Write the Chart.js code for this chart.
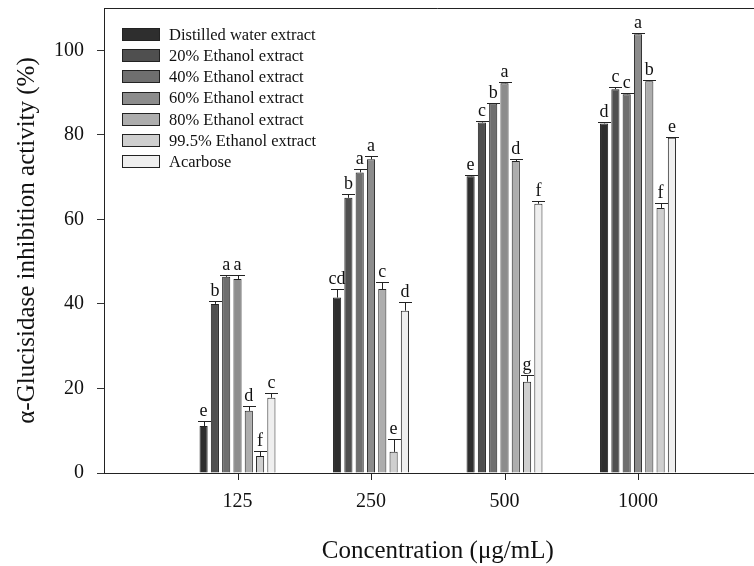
<!DOCTYPE html>
<html><head><meta charset="utf-8">
<script src="https://cdn.jsdelivr.net/npm/chart.js@4.4.1/dist/chart.umd.min.js"></script>
<style>html,body{margin:0;padding:0;overflow:hidden;background:#fff}
#wrap{position:relative;width:780px;height:566px}</style></head>
<body><div id="wrap"><canvas id="c"></canvas></div>
<script>
const concentrations = ['125', '250', '500', '1000'];
const seriesNames = ['Distilled water extract', '20% Ethanol extract', '40% Ethanol extract',
  '60% Ethanol extract', '80% Ethanol extract', '99.5% Ethanol extract', 'Acarbose'];
const distilled = [11.1, 41.5, 70.2, 82.7];
const eth20 = [40.0, 65.1, 82.9, 90.8];
const eth40 = [46.4, 71.1, 87.4, 89.6];
const eth60 = [45.9, 74.2, 92.2, 103.8];
const eth80 = [14.7, 43.5, 73.8, 92.7];
const eth995 = [4.0, 5.0, 21.6, 62.7];
const acarbose = [17.8, 38.4, 63.7, 79.3];
const errDistilled = [1.2, 2.0, 0.4, 0.3];
const err20 = [0.8, 1.0, 0.3, 0.4];
const err40 = [0.5, 0.7, 0.2, 0.2];
const err60 = [0.9, 0.8, 0.2, 0.2];
const err80 = [1.2, 1.7, 0.4, 0.2];
const err995 = [1.3, 3.0, 1.6, 1.2];
const errAcarbose = [1.1, 2.0, 0.6, 0.3];
const lettersDistilled = ['e', 'cd', 'e', 'd'];
const letters20 = ['b', 'b', 'c', 'c'];
const letters40 = ['a', 'a', 'b', 'c'];
const letters60 = ['a', 'a', 'a', 'a'];
const letters80 = ['d', 'c', 'd', 'b'];
const letters995 = ['f', 'e', 'g', 'f'];
const lettersAcarbose = ['c', 'd', 'f', 'e'];
const yTicks = [0, 20, 40, 60, 80, 100];

const values = [distilled, eth20, eth40, eth60, eth80, eth995, acarbose];
const errors = [errDistilled, err20, err40, err60, err80, err995, errAcarbose];
const letters = [lettersDistilled, letters20, letters40, letters60, letters80, letters995, lettersAcarbose];
const fills = ['#2e2e2e', '#4f4f4f', '#6f6f6f', '#8c8c8c', '#adadad', '#cfcfcf', '#efefef'];
const SERIF = '"Liberation Serif", "Times New Roman", serif';

const overlay = {
  id: 'overlay',
  afterDraw(chart) {
    const ctx = chart.ctx;
    const ys = chart.scales.y;
    const xs = chart.scales.x;
    const a = chart.chartArea;
    ctx.save();
    ctx.strokeStyle = '#222';
    ctx.lineWidth = 1;
    ctx.fillStyle = '#111';
    ctx.font = '18px ' + SERIF;
    ctx.textAlign = 'center';
    ctx.textBaseline = 'bottom';
    chart.data.datasets.forEach((ds, i) => {
      const meta = chart.getDatasetMeta(i);
      meta.data.forEach((el, j) => {
        const v = ds.data[j];
        if (v == null) return;
        const k = j - 1;
        const yTop = Math.round(ys.getPixelForValue(v + errors[i][k])) + 0.5;
        const x = Math.round(el.x) + 0.5;
        ctx.beginPath();
        ctx.moveTo(x, el.y);
        ctx.lineTo(x, yTop);
        ctx.moveTo(x - 6.5, yTop);
        ctx.lineTo(x + 6.5, yTop);
        ctx.stroke();
        ctx.fillText(letters[i][k], el.x, yTop - 1);
      });
    });
    ctx.beginPath();
    ctx.moveTo(a.left, Math.round(a.top) + 0.5);
    ctx.lineTo(a.right, Math.round(a.top) + 0.5);
    ctx.stroke();
    // category tick marks
    const m0 = chart.getDatasetMeta(0).data;
    const m6 = chart.getDatasetMeta(chart.data.datasets.length - 1).data;
    const yb = Math.round(a.bottom);
    concentrations.forEach((c, k) => {
      let px = xs.getPixelForValue(k + 1);
      if (!isFinite(px)) px = (m0[k + 1].x + m6[k + 1].x) / 2;
      px = Math.round(px) + 0.5;
      ctx.beginPath();
      ctx.moveTo(px, yb);
      ctx.lineTo(px, yb + 7);
      ctx.stroke();
    });
    // legend
    ctx.font = '16.5px ' + SERIF;
    ctx.textAlign = 'left';
    ctx.textBaseline = 'middle';
    chart.data.datasets.forEach((ds, i) => {
      const cy = 34.5 + i * 21.2;
      ctx.fillStyle = ds.backgroundColor;
      ctx.fillRect(122, Math.round(cy - 6.5), 38, 13);
      ctx.strokeStyle = '#222';
      ctx.strokeRect(122.5, Math.round(cy - 6.5) + 0.5, 37, 12);
      ctx.fillStyle = '#111';
      ctx.fillText(ds.label, 169, cy + 1);
    });
    ctx.restore();
  }
};

new Chart(document.getElementById('c'), {
  type: 'bar',
  data: {
    labels: ['', ...concentrations, ''],
    datasets: values.map((arr, i) => ({
      label: seriesNames[i],
      data: [null, ...arr, null],
      backgroundColor: fills[i],
      borderColor: '#222',
      borderWidth: 1,
      categoryPercentage: 0.5925,
      barPercentage: 0.72
    }))
  },
  options: {
    responsive: true,
    maintainAspectRatio: false,
    animation: false,
    layout: { padding: { top: 8, right: 8.5, left: 0, bottom: 0 } },
    plugins: { legend: { display: false }, tooltip: { enabled: false } },
    scales: {
      x: {
        type: 'category',
        offset: false,
        grid: { offset: false, drawOnChartArea: false, drawTicks: false },
        border: { color: '#222', width: 1 },
        ticks: { color: '#111', font: { family: SERIF, size: 20 }, padding: 17, maxRotation: 0, autoSkip: false },
        title: { display: true, text: 'Concentration (\u03bcg/mL)', color: '#111',
          font: { family: SERIF, size: 25 }, padding: { top: 0, bottom: 0 } },
        afterFit: (s) => { s.height = 93; s.paddingLeft = 0; s.paddingRight = 0; }
      },
      y: {
        min: 0,
        max: 110,
        afterBuildTicks: (s) => { s.ticks = yTicks.map(v => ({ value: v })); },
        grid: { drawOnChartArea: false, tickLength: 7, tickColor: '#333' },
        border: { color: '#222', width: 1 },
        ticks: { color: '#111', font: { family: SERIF, size: 20 }, padding: 13 },
        title: { display: true, text: '\u03b1-Glucisidase inhibition activity (%)', color: '#111',
          font: { family: SERIF, size: 25 }, padding: { top: 12, bottom: 0 } },
        afterFit: (s) => { s.width = 104; s.paddingTop = 0; s.paddingBottom = 0; }
      }
    }
  },
  plugins: [overlay]
});
</script>
</body></html>
